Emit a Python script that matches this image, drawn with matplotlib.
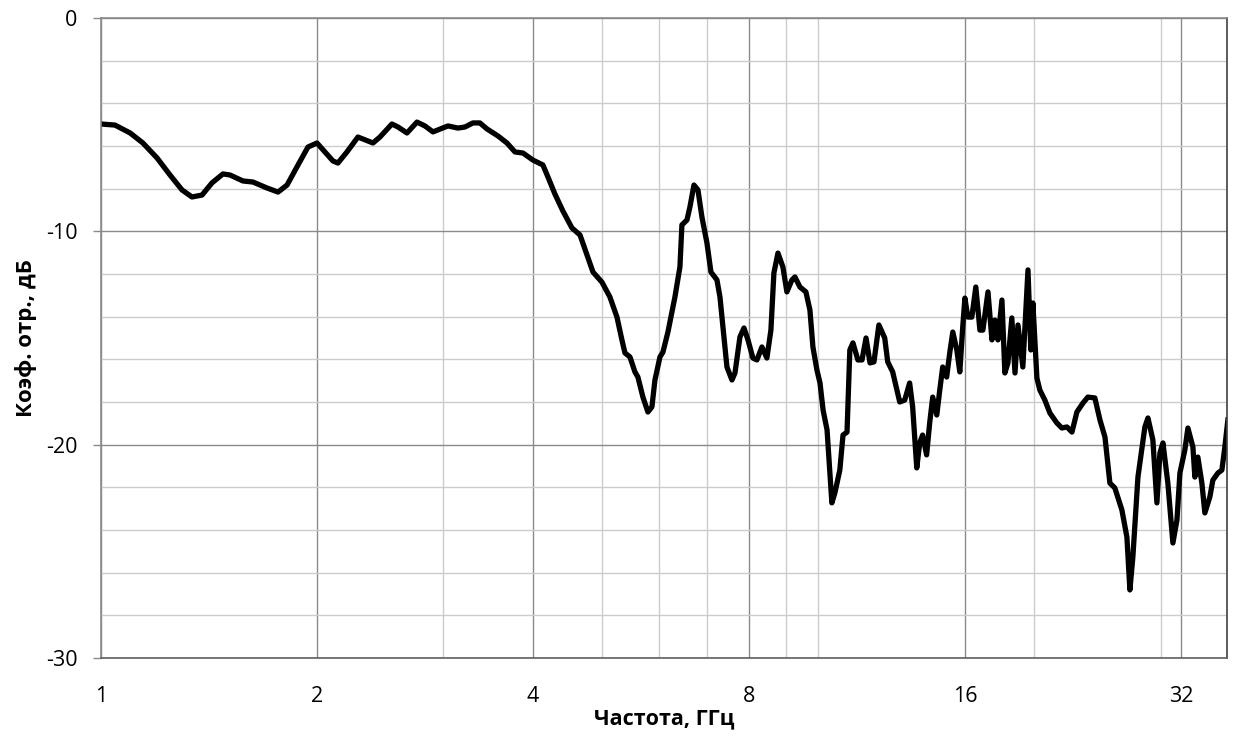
import matplotlib
matplotlib.use("Agg")
import matplotlib.pyplot as plt
from matplotlib.ticker import FixedLocator, NullFormatter

# частота, ГГц
freq = [1.00, 1.046, 1.098, 1.144, 1.197, 1.248, 1.297, 1.339, 1.383, 1.428,
        1.479, 1.513, 1.577, 1.629, 1.704, 1.765, 1.817, 1.882, 1.943, 2.00,
        2.052, 2.105, 2.139, 2.202, 2.281, 2.394, 2.448, 2.544, 2.594, 2.670,
        2.757, 2.828, 2.902, 3.045, 3.144, 3.216, 3.299, 3.374, 3.451, 3.575,
        3.680, 3.776, 3.874, 4.000, 4.130, 4.197, 4.292, 4.404, 4.533, 4.652,
        4.757, 4.850, 4.991, 5.121, 5.238, 5.322, 5.374, 5.461, 5.549, 5.602,
        5.693, 5.785, 5.860, 5.917, 6.013, 6.071, 6.169, 6.309, 6.411, 6.452,
        6.557, 6.620, 6.706, 6.793, 6.880, 6.992, 7.082, 7.220, 7.290, 7.360,
        7.455, 7.576, 7.650, 7.773, 7.874, 7.976, 8.103, 8.208, 8.341, 8.475,
        8.585, 8.668, 8.781, 8.922, 9.037, 9.184, 9.273, 9.423, 9.605, 9.730,
        9.824, 9.951, 10.05, 10.15, 10.28, 10.34, 10.44, 10.54, 10.71, 10.82,
        10.96, 11.06, 11.17, 11.35, 11.50, 11.65, 11.80, 11.95, 12.14, 12.37,
        12.49, 12.69, 12.98, 13.19, 13.40, 13.53, 13.71, 13.84, 13.97, 14.15,
        14.29, 14.43, 14.62, 14.76, 14.90, 15.09, 15.24, 15.39, 15.59, 15.74,
        15.89, 16.00, 16.15, 16.36, 16.57, 16.79, 16.95, 17.23, 17.45, 17.62,
        17.79, 18.02, 18.19, 18.37, 18.60, 18.79, 18.97, 19.27, 19.59, 19.77,
        19.90, 20.16, 20.35, 20.68, 21.02, 21.49, 21.84, 22.20, 22.56, 22.92,
        23.37, 23.74, 24.28, 24.68, 25.08, 25.48, 25.89, 26.48, 26.91, 27.17,
        27.43, 27.88, 28.51, 28.79, 29.25, 29.63, 29.92, 30.21, 30.69, 31.19,
        31.60, 31.90, 32.41, 32.73, 33.26, 33.47, 33.79, 34.23, 34.56, 35.12,
        35.46, 36.04, 36.50, 36.85, 37.21]

# коэффициент отражения, дБ
s11 = [-4.97, -5.02, -5.39, -5.86, -6.56, -7.36, -8.06, -8.39, -8.30, -7.73,
       -7.31, -7.36, -7.64, -7.69, -7.97, -8.16, -7.83, -6.89, -6.05, -5.86,
       -6.28, -6.70, -6.80, -6.28, -5.58, -5.86, -5.58, -4.97, -5.11, -5.39,
       -4.88, -5.06, -5.34, -5.06, -5.16, -5.11, -4.92, -4.92, -5.20, -5.53,
       -5.86, -6.28, -6.33, -6.66, -6.89, -7.45, -8.25, -9.05, -9.84, -10.17,
       -11.11, -11.91, -12.38, -13.08, -14.02, -15.09, -15.70, -15.89, -16.59, -16.83,
       -17.77, -18.47, -18.23, -16.97, -15.89, -15.66, -14.72, -13.08, -11.67, -9.70,
       -9.47, -8.86, -7.83, -8.06, -9.33, -10.55, -11.91, -12.28, -13.08, -14.48,
       -16.36, -16.97, -16.64, -14.95, -14.53, -15.09, -15.94, -16.03, -15.42, -15.94,
       -14.63, -11.95, -11.02, -11.67, -12.84, -12.28, -12.14, -12.61, -12.84, -13.69,
       -15.42, -16.50, -17.11, -18.38, -19.31, -20.58, -22.73, -22.27, -21.19, -19.55,
       -19.41, -15.56, -15.23, -16.03, -16.03, -15.00, -16.17, -16.12, -14.39, -15.00,
       -16.12, -16.59, -18.00, -17.91, -17.11, -18.23, -21.09, -19.92, -19.55, -20.48,
       -18.98, -17.77, -18.61, -17.44, -16.36, -16.83, -15.70, -14.72, -15.56, -16.59,
       -14.48, -13.13, -14.02, -14.02, -12.61, -14.63, -14.63, -12.84, -15.09, -14.16,
       -15.09, -13.22, -16.64, -16.17, -14.06, -16.64, -14.39, -16.36, -11.81, -15.56,
       -13.36, -16.88, -17.44, -17.91, -18.52, -18.98, -19.22, -19.17, -19.41, -18.47,
       -18.05, -17.77, -17.81, -18.84, -19.64, -21.80, -22.03, -23.06, -24.33, -26.81,
       -25.27, -21.52, -19.17, -18.75, -19.78, -22.73, -20.39, -19.92, -21.80, -24.61,
       -23.53, -21.33, -20.25, -19.22, -20.11, -21.52, -20.58, -21.80, -23.20, -22.45,
       -21.66, -21.33, -21.19, -20.11, -18.84]

x_major = [1, 2, 4, 8, 16, 32]
x_minor = [3, 5, 6, 7, 9, 10, 20, 30]
y_major = [0, -10, -20, -30]
y_minor = [-2, -4, -6, -8, -12, -14, -16, -18, -22, -24, -26, -28]

plt.rcParams['font.family'] = ['Open Sans', 'DejaVu Sans']
plt.rcParams['axes.unicode_minus'] = False

fig = plt.figure(figsize=(12.33, 7.37), dpi=100)
ax = fig.add_axes([0.0819, 0.1072, 0.9132, 0.8684])

ax.plot(freq, s11, color='black', linewidth=3.8, solid_joinstyle='round')

ax.set_xscale('log', base=2)
ax.set_xlim(1, 37.1)
ax.set_ylim(-30, 0)

ax.xaxis.set_major_locator(FixedLocator(x_major))
ax.xaxis.set_minor_locator(FixedLocator(x_minor))
ax.set_xticklabels([str(v) for v in x_major])
ax.xaxis.set_minor_formatter(NullFormatter())
ax.yaxis.set_major_locator(FixedLocator(y_major))
ax.yaxis.set_minor_locator(FixedLocator(y_minor))

ax.grid(which='major', color='#8a8a8a', linewidth=1.0)
ax.grid(which='minor', color='#cccccc', linewidth=1.0)
ax.set_axisbelow(True)

ax.tick_params(axis='x', which='both', length=0, pad=20, labelsize=15.5)
ax.tick_params(axis='y', which='major', length=6, width=1, color='#8a8a8a',
               pad=11, labelsize=15.5)
ax.tick_params(axis='y', which='minor', length=0)

for side in ['left', 'top']:
    ax.spines[side].set_color('#8a8a8a')
ax.spines['bottom'].set_color('#606060')
ax.spines['right'].set_color('#404040')
for s in ax.spines.values():
    s.set_linewidth(1.2)

ax.set_xlabel('Частота, ГГц', fontsize=15.5, fontweight='bold', labelpad=1)
ax.set_ylabel('Коэф. отр., дБ', fontsize=16, fontweight='bold', labelpad=6)

plt.savefig('out.png', dpi=100)
